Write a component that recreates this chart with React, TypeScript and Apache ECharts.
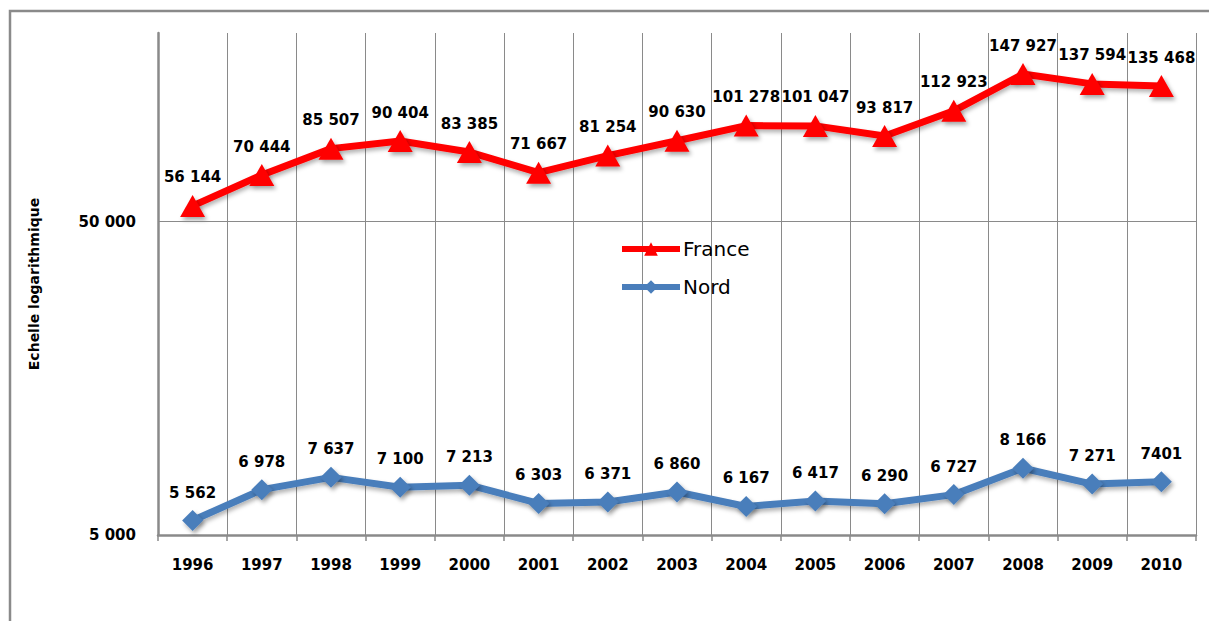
import React, { useEffect, useRef } from "react";
import * as echarts from "echarts";

const years = ["1996", "1997", "1998", "1999", "2000", "2001", "2002", "2003", "2004", "2005", "2006", "2007", "2008", "2009", "2010"];
const franceValues = [56144, 70444, 85507, 90404, 83385, 71667, 81254, 90630, 101278, 101047, 93817, 112923, 147927, 137594, 135468];
const nordValues = [5562, 6978, 7637, 7100, 7213, 6303, 6371, 6860, 6167, 6417, 6290, 6727, 8166, 7271, 7401];
const yMin = 5000;
const yMax = 200000;
const yTickValues = [5000, 50000];
const nordUnspacedYears = ["2010"];
const yAxisTitle = "Echelle logarithmique";

const FONT = "DejaVu Sans";
const GRAY = "#8a8a8a";

function fmt(v: number): string {
  return String(v).replace(/\B(?=(\d{3})+(?!\d))/g, " ");
}

export default function App() {
  const ref = useRef<HTMLDivElement>(null);
  useEffect(() => {
    if (!ref.current) return;
    const chart = echarts.init(ref.current, undefined, { renderer: "svg" });
    const labelStyle = {
      show: true,
      position: "top" as const,
      distance: 10,
      color: "#000",
      fontFamily: FONT,
      fontWeight: "bold" as const,
      fontSize: 15,
    };
    chart.setOption({
      animation: false,
      backgroundColor: "#ffffff",
      graphic: [
        {
          type: "rect",
          shape: { x: 10, y: 11, width: 1400, height: 800 },
          style: { fill: "none", stroke: GRAY, lineWidth: 2.5 },
          silent: true,
        },
      ],
      grid: { left: 158, right: 13, top: 33, bottom: 86, containLabel: false },
      legend: {
        orient: "vertical",
        left: 614,
        top: 234,
        itemWidth: 58,
        itemHeight: 17,
        itemGap: 18,
        lineStyle: { width: 6 },
        textStyle: { fontFamily: FONT, fontSize: 20, color: "#000", padding: [0, 0, 0, -2] },
        data: ["France", "Nord"],
      },
      xAxis: {
        type: "category",
        data: years,
        boundaryGap: true,
        axisLine: { lineStyle: { color: GRAY, width: 2.5 } },
        axisTick: { show: true, length: 6, lineStyle: { color: GRAY, width: 1.5 } },
        axisLabel: { color: "#000", fontFamily: FONT, fontWeight: "bold", fontSize: 15, margin: 22 },
        splitLine: { show: true, lineStyle: { color: GRAY, width: 1 } },
      },
      yAxis: {
        type: "log",
        logBase: 10,
        min: yMin,
        max: yMax,
        name: yAxisTitle,
        nameLocation: "middle",
        nameGap: 117,
        nameRotate: 90,
        nameTextStyle: { color: "#000", fontFamily: FONT, fontWeight: "bold", fontSize: 14 },
        axisLine: { show: true, lineStyle: { color: GRAY, width: 2.5 } },
        axisTick: { show: false },
        axisLabel: { show: false },
        splitLine: { show: false },
      },
      series: [
        {
          name: "France",
          type: "line",
          data: franceValues,
          symbol: "triangle",
          symbolSize: [25, 22],
          color: "#ff0000",
          lineStyle: {
            color: "#ff0000",
            width: 7,
            shadowColor: "rgba(0,0,0,0.3)",
            shadowBlur: 4,
            shadowOffsetX: 1,
            shadowOffsetY: 3,
          },
          itemStyle: {
            color: "#ff0000",
            shadowColor: "rgba(0,0,0,0.35)",
            shadowBlur: 4,
            shadowOffsetX: 2,
            shadowOffsetY: 3,
          },
          label: { ...labelStyle, formatter: (p: any) => fmt(p.value) },
          markLine: {
            silent: true,
            symbol: "none",
            animation: false,
            label: {
              show: true,
              position: "start",
              distance: 22,
              color: "#000",
              fontFamily: FONT,
              fontWeight: "bold",
              fontSize: 15,
              formatter: (p: any) => fmt(p.value),
            },
            data: yTickValues.map((v) => ({
              yAxis: v,
              lineStyle: {
                color: v === yMin ? "rgba(0,0,0,0)" : GRAY,
                width: 1,
                type: "solid",
                shadowBlur: 0,
                shadowOffsetX: 0,
                shadowOffsetY: 0,
              },
            })),
          },
          z: 3,
        },
        {
          name: "Nord",
          type: "line",
          data: nordValues,
          symbol: "diamond",
          symbolSize: 21,
          color: "#4a7ebb",
          lineStyle: {
            color: "#4a7ebb",
            width: 7,
            shadowColor: "rgba(0,0,0,0.3)",
            shadowBlur: 4,
            shadowOffsetX: 1,
            shadowOffsetY: 3,
          },
          itemStyle: {
            color: "#4a7ebb",
            shadowColor: "rgba(0,0,0,0.35)",
            shadowBlur: 4,
            shadowOffsetX: 2,
            shadowOffsetY: 3,
          },
          label: {
            ...labelStyle,
            formatter: (p: any) =>
              nordUnspacedYears.includes(p.name) ? String(p.value) : fmt(p.value),
          },
          z: 3,
        },
      ],
    });
    return () => chart.dispose();
  }, []);
  return (
    <div
      ref={ref}
      style={{ position: "fixed", left: 0, top: 0, width: 1209, height: 621, background: "#fff" }}
    />
  );
}
